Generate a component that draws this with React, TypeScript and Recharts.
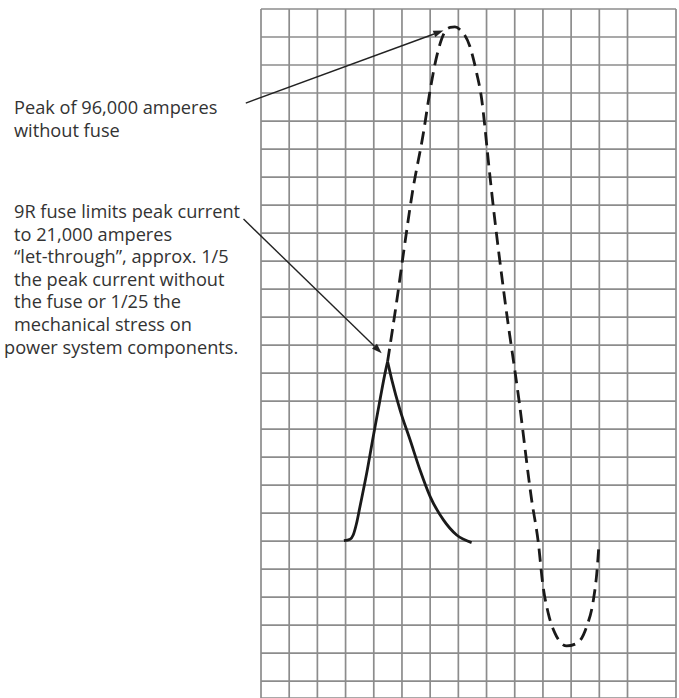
import { LineChart, Line, XAxis, YAxis, CartesianGrid, ReferenceLine } from "recharts";

// x: grid columns from the left edge, y: grid rows above the zero line
const withoutFuse = [
  { x: 4.49, y: 6.41 },
  { x: 4.82, y: 8.61 },
  { x: 5.07, y: 10.4 },
  { x: 5.37, y: 12.45 },
  { x: 5.76, y: 14.57 },
  { x: 6.0, y: 16.11 },
  { x: 6.23, y: 17.3 },
  { x: 6.53, y: 18.2 },
  { x: 6.71, y: 18.34 },
  { x: 6.88, y: 18.36 },
  { x: 7.06, y: 18.26 },
  { x: 7.41, y: 17.66 },
  { x: 7.65, y: 16.71 },
  { x: 7.83, y: 15.76 },
  { x: 7.94, y: 14.8 },
  { x: 8.06, y: 13.61 },
  { x: 8.18, y: 12.48 },
  { x: 8.65, y: 8.61 },
  { x: 9.15, y: 5.04 },
  { x: 9.6, y: 1.47 },
  { x: 9.84, y: -0.08 },
  { x: 9.99, y: -1.5 },
  { x: 10.19, y: -2.58 },
  { x: 10.43, y: -3.29 },
  { x: 10.84, y: -3.74 },
  { x: 11.2, y: -3.65 },
  { x: 11.55, y: -3.05 },
  { x: 11.79, y: -2.1 },
  { x: 11.91, y: -1.15 },
  { x: 11.99, y: -0.08 },
];

// fused current, rising edge and decay kept apart so the peak stays sharp
const withFuseRise = [
  { x: 2.94, y: 0.02 },
  { x: 3.16, y: 0.07 },
  { x: 3.27, y: 0.22 },
  { x: 3.39, y: 0.64 },
  { x: 3.51, y: 1.23 },
  { x: 3.75, y: 2.43 },
  { x: 3.98, y: 3.73 },
  { x: 4.22, y: 5.04 },
  { x: 4.4, y: 6.0 },
  { x: 4.49, y: 6.41 },
];

const withFuseFall = [
  { x: 4.49, y: 6.41 },
  { x: 4.64, y: 5.76 },
  { x: 4.93, y: 4.69 },
  { x: 5.29, y: 3.61 },
  { x: 5.64, y: 2.54 },
  { x: 6.0, y: 1.59 },
  { x: 6.47, y: 0.76 },
  { x: 6.94, y: 0.22 },
  { x: 7.47, y: -0.05 },
];

const columnTicks = [0, 1, 2, 3, 4, 5, 6, 7, 8, 9, 10, 11, 12, 13, 14, 14.72];
const rowTicks = [-5, -4, -3, -2, -1, 0, 1, 2, 3, 4, 5, 6, 7, 8, 9, 10, 11, 12, 13, 14, 15, 16, 17, 18, 19];

const peakNote = ["Peak of 96,000 amperes", "without fuse"];
const fuseNote = [
  "9R fuse limits peak current",
  "to 21,000 amperes",
  "\u201clet-through\u201d, approx. 1/5",
  "the peak current without",
  "the fuse or 1/25 the",
  "mechanical stress on",
  "power system components.",
];

const peakArrow = [{ x: -0.54, y: 15.64 }, { x: 6.47, y: 18.23 }];
const fuseArrow = [{ x: -0.62, y: 11.5 }, { x: 4.28, y: 6.71 }];

const Arrow = (props: any) => {
  const { x1, y1, x2, y2 } = props;
  const ang = Math.atan2(y2 - y1, x2 - x1);
  const len = 10;
  const w = 3.5;
  const bx = x2 - len * Math.cos(ang);
  const by = y2 - len * Math.sin(ang);
  const px = -Math.sin(ang) * w;
  const py = Math.cos(ang) * w;
  return (
    <g>
      <line x1={x1} y1={y1} x2={bx} y2={by} stroke="#222" strokeWidth={1.4} />
      <polygon points={`${x2},${y2} ${bx + px},${by + py} ${bx - px},${by - py}`} fill="#222" />
    </g>
  );
};

const noteStyle: React.CSSProperties = {
  position: "absolute",
  left: 14,
  fontFamily: "'Open Sans', sans-serif",
  fontSize: 18.2,
  lineHeight: "22.6px",
  color: "#333",
  whiteSpace: "nowrap",
};

const curve = { stroke: "#1a1a1a", strokeWidth: 2.8, dot: false, isAnimationActive: false } as const;

export default function App() {
  return (
    <div style={{ position: "absolute", left: 0, top: 0, width: 679, height: 698, overflow: "hidden", background: "#fff" }}>
      <LineChart width={679} height={698} margin={{ top: 9, left: 261, right: 3, bottom: 0 }}>
        <CartesianGrid stroke="#8c8c8c" strokeWidth={1.7} />
        <XAxis type="number" dataKey="x" domain={[0, 14.72]} ticks={columnTicks} hide />
        <YAxis type="number" dataKey="y" domain={[-5.6, 19]} ticks={rowTicks} hide />
        <Line data={withoutFuse} dataKey="y" type="monotone" strokeDasharray="13 7" {...curve} />
        <Line data={withFuseRise} dataKey="y" type="monotone" {...curve} />
        <Line data={withFuseFall} dataKey="y" type="monotone" {...curve} />
        <ReferenceLine segment={peakArrow} ifOverflow="visible" shape={Arrow} />
        <ReferenceLine segment={fuseArrow} ifOverflow="visible" shape={Arrow} />
      </LineChart>
      <div style={{ ...noteStyle, top: 96 }}>
        {peakNote.map((t) => (
          <div key={t}>{t}</div>
        ))}
      </div>
      <div style={{ ...noteStyle, top: 200 }}>
        {fuseNote.map((t, i) => (
          <div key={t} style={{ marginLeft: i === fuseNote.length - 1 ? -10 : 0 }}>
            {t}
          </div>
        ))}
      </div>
    </div>
  );
}
